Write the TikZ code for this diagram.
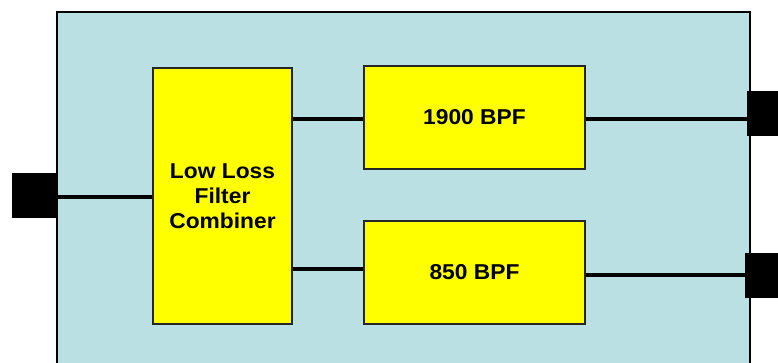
\documentclass[tikz,border=0pt]{standalone}
\usepackage{fontspec}
\setmainfont{Liberation Sans}[FakeStretch=1.06]
\definecolor{panelblue}{RGB}{187,224,227}
\definecolor{blockyellow}{RGB}{255,255,0}
\begin{document}
\begin{tikzpicture}[x=1pt,y=-1pt,
  block/.style={draw=black!85,line width=1.2pt,fill=blockyellow,inner sep=0pt,
    font=\fontsize{21.5}{25}\selectfont\bfseries,align=center},
  port/.style={fill=black,draw=none,inner sep=0pt},
  wire/.style={line width=4pt,black}]
\useasboundingbox (0,0) rectangle (778,362);
\begin{scope}
\clip (0,0) rectangle (778,362);
\node[draw=black,line width=2.5pt,fill=panelblue,minimum width=693pt,minimum height=380pt,inner sep=0pt] (panel) at (403.5,202) {};
\node[block,minimum width=139pt,minimum height=256pt] (comb) at (222.5,196) {Low Loss\\Filter\\Combiner};
\node[block,minimum width=221pt,minimum height=103pt] (bpfa) at (474.5,117.5) {1900 BPF};
\node[block,minimum width=221pt,minimum height=103pt] (bpfb) at (474.5,272.5) {850 BPF};
\node[port,minimum width=45pt,minimum height=45pt] (pin) at (34.5,195.5) {};
\node[port,minimum width=33pt,minimum height=45pt] (pouta) at (763.5,113.5) {};
\node[port,minimum width=35pt,minimum height=45pt] (poutb) at (762.5,275.5) {};
\draw[wire] ([yshift=-1.5pt]pin.east) -- ([yshift=-1.5pt]pin.east -| comb.west);
\draw[wire] ([yshift=-1.5pt]bpfa.west -| comb.east) -- ([yshift=-1.5pt]bpfa.west);
\draw[wire] ([yshift=3.5pt]bpfb.west -| comb.east) -- ([yshift=3.5pt]bpfb.west);
\draw[wire] ([yshift=-1.5pt]bpfa.east) -- ([yshift=-1.5pt]bpfa.east -| pouta.west);
\draw[wire] ([yshift=-2.5pt]bpfb.east) -- ([yshift=-2.5pt]bpfb.east -| poutb.west);
\end{scope}
\end{tikzpicture}
\end{document}
